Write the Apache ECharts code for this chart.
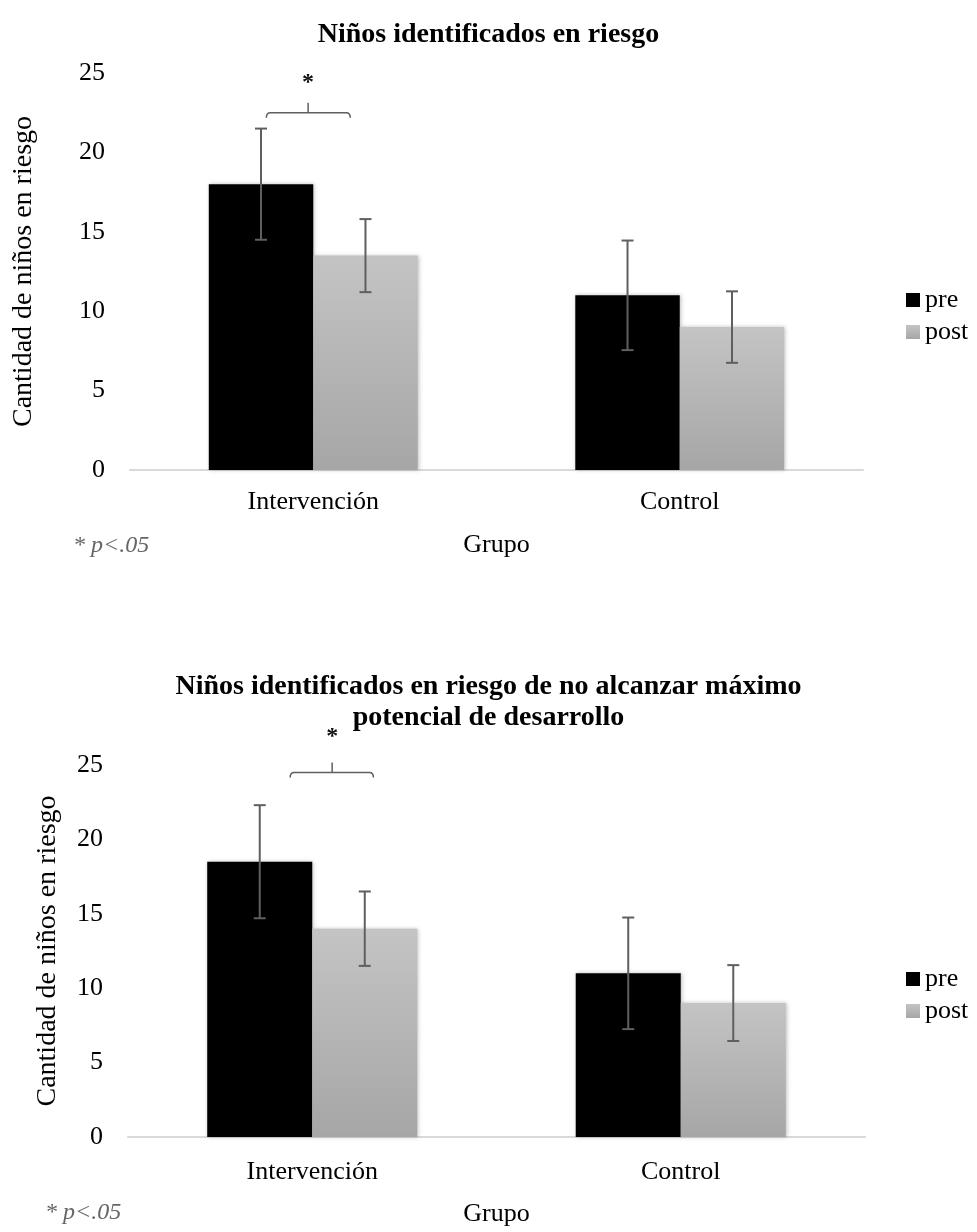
<!DOCTYPE html>
<html>
<head>
<meta charset="utf-8">
<script src="https://cdn.jsdelivr.net/npm/echarts@6/dist/echarts.min.js"></script>
<style>
html,body{margin:0;padding:0;background:#fff;}
#chart{width:977px;height:1232px;}
</style>
</head>
<body>
<div id="chart"></div>
<script>
// ---- data ----
var categories = ['Intervención', 'Control'];
var seriesNames = ['pre', 'post'];
var yTicks = [0, 5, 10, 15, 20, 25];

var title1 = 'Niños identificados en riesgo';
var pre1 = [18.0, 11.0];
var post1 = [13.5, 9.0];
var preErr1 = [3.5, 3.45];
var postErr1 = [2.3, 2.25];

var title2 = 'Niños identificados en riesgo de no alcanzar máximo\npotencial de desarrollo';
var pre2 = [18.5, 11.0];
var post2 = [14.0, 9.0];
var preErr2 = [3.8, 3.75];
var postErr2 = [2.5, 2.55];

var yAxisName = 'Cantidad de niños en riesgo';
var xAxisName = 'Grupo';
var noteText = '* p<.05';

// significance annotation: [categoryIndex, bracketY, starY]
var sig1 = [[0, 22.5, 24.4]];
var sig2 = [[0, 24.5, 26.9]];

// ---- layout / style config ----
var FONT = '"Liberation Serif", "Times New Roman", serif';
var GAP = 0.43;
var bracketOffsets = [[-0.128, 0.101, -0.014], [-0.060, 0.166, 0.054]]; // fraction of band: left, right, center

function errData(vals, errs) {
  return vals.map(function (v, i) { return [i, v - errs[i], v + errs[i]]; });
}

function errRender(side) {
  return function (params, api) {
    var band = api.size([1, 0])[0];
    var barW = band * (1 - GAP) / 2;
    var top = api.coord([api.value(0), api.value(2)]);
    var bot = api.coord([api.value(0), api.value(1)]);
    var x = top[0] + side * barW / 2;
    var c = 6;
    var st = { stroke: '#5f5f5f', lineWidth: 2 };
    return {
      type: 'group',
      children: [
        { type: 'line', shape: { x1: x, y1: top[1], x2: x, y2: bot[1] }, style: st },
        { type: 'line', shape: { x1: x - c, y1: top[1], x2: x + c, y2: top[1] }, style: st },
        { type: 'line', shape: { x1: x - c, y1: bot[1], x2: x + c, y2: bot[1] }, style: st }
      ]
    };
  };
}

function sigRender(k) {
  return function (params, api) {
    var band = api.size([1, 0])[0];
    var p = api.coord([api.value(0), api.value(1)]);
    var s = api.coord([api.value(0), api.value(2)]);
    var off = bracketOffsets[k];
    var x1 = p[0] + off[0] * band, x2 = p[0] + off[1] * band, xc = p[0] + off[2] * band;
    var y = p[1];
    var path = 'M' + x1 + ',' + (y + 5) + ' Q' + x1 + ',' + y + ' ' + (x1 + 4) + ',' + y +
      ' L' + (x2 - 4) + ',' + y + ' Q' + x2 + ',' + y + ' ' + x2 + ',' + (y + 5) +
      ' M' + xc + ',' + y + ' L' + xc + ',' + (y - 10);
    return {
      type: 'group',
      children: [
        { type: 'path', shape: { pathData: path }, style: { stroke: '#5f5f5f', lineWidth: 1.5, fill: null } },
        { type: 'text', x: xc, y: s[1], style: { text: '*', fontFamily: FONT, fontSize: 24, fontWeight: 'bold', fill: '#111', align: 'center', verticalAlign: 'middle' } }
      ]
    };
  };
}

var postColor = {
  type: 'linear', x: 0, y: 0, x2: 0, y2: 1,
  colorStops: [{ offset: 0, color: '#c4c4c4' }, { offset: 1, color: '#a6a6a6' }]
};

function xAxisCfg(gi, labelMargin, nameGap) {
  return {
    gridIndex: gi, type: 'category', data: categories,
    axisLine: { show: true, lineStyle: { color: '#d9d9d9', width: 2 } },
    axisTick: { show: false },
    axisLabel: { fontFamily: FONT, fontSize: 26, color: '#000', margin: labelMargin },
    name: xAxisName, nameLocation: 'middle', nameGap: nameGap,
    nameTextStyle: { fontFamily: FONT, fontSize: 26, color: '#000' }
  };
}
function yAxisCfg(gi, nameGap) {
  return {
    gridIndex: gi, type: 'value', min: yTicks[0], max: yTicks[yTicks.length - 1], interval: yTicks[1] - yTicks[0],
    axisLine: { show: false }, axisTick: { show: false }, splitLine: { show: false },
    axisLabel: { fontFamily: FONT, fontSize: 26, color: '#000', margin: 25 },
    name: yAxisName, nameLocation: 'middle', nameGap: nameGap, nameRotate: 90,
    nameTextStyle: { fontFamily: FONT, fontSize: 28, color: '#000' }
  };
}

var barShadow = { shadowBlur: 4, shadowColor: 'rgba(0,0,0,0.25)', shadowOffsetX: 1, shadowOffsetY: 0 };

function barSeries(name, data, gi, color) {
  return {
    name: name, type: 'bar', xAxisIndex: gi, yAxisIndex: gi, data: data,
    barGap: '0%', barCategoryGap: (GAP * 100) + '%',
    itemStyle: Object.assign({ color: color }, barShadow),
    emphasis: { disabled: true }, silent: true
  };
}
function errSeries(data, gi, side) {
  return {
    type: 'custom', xAxisIndex: gi, yAxisIndex: gi, data: data,
    encode: { x: 0, y: [1, 2] }, renderItem: errRender(side), silent: true, z: 5
  };
}
function sigSeries(data, gi) {
  return {
    type: 'custom', xAxisIndex: gi, yAxisIndex: gi, data: data, clip: false,
    encode: { x: 0, y: [1, 2] }, renderItem: sigRender(gi), silent: true, z: 6
  };
}

var legendCfg = function (top) {
  return {
    data: seriesNames, orient: 'vertical', left: 901, top: top,
    itemWidth: 14, itemHeight: 14, itemGap: 4, icon: 'rect',
    textStyle: { fontFamily: FONT, fontSize: 26, color: '#000', lineHeight: 28 },
    selectedMode: false
  };
};

var option = {
  backgroundColor: '#fff',
  animation: false,
  title: [
    { text: title1, left: 'center', top: 14, textStyle: { fontFamily: FONT, fontSize: 28, fontWeight: 'bold', color: '#000', lineHeight: 32 } },
    { text: title2, left: 'center', top: 666, textStyle: { fontFamily: FONT, fontSize: 28, fontWeight: 'bold', color: '#000', lineHeight: 31 } }
  ],
  legend: [legendCfg(281), legendCfg(960)],
  grid: [
    { left: 130, right: 114, top: 73, height: 397 },
    { left: 128, right: 112, top: 765, height: 372 }
  ],
  xAxis: [xAxisCfg(0, 19, 62), xAxisCfg(1, 22, 64)],
  yAxis: [yAxisCfg(0, 92), yAxisCfg(1, 66)],
  series: [
    barSeries(seriesNames[0], pre1, 0, '#000'),
    barSeries(seriesNames[1], post1, 0, postColor),
    errSeries(errData(pre1, preErr1), 0, -1),
    errSeries(errData(post1, postErr1), 0, 1),
    sigSeries(sig1, 0),
    barSeries(seriesNames[0], pre2, 1, '#000'),
    barSeries(seriesNames[1], post2, 1, postColor),
    errSeries(errData(pre2, preErr2), 1, -1),
    errSeries(errData(post2, postErr2), 1, 1),
    sigSeries(sig2, 1)
  ],
  graphic: [
    { type: 'text', left: 73, top: 534, style: { text: noteText, fontFamily: FONT, fontSize: 24, fontStyle: 'italic', fill: '#666' } },
    { type: 'text', left: 45, top: 1201, style: { text: noteText, fontFamily: FONT, fontSize: 24, fontStyle: 'italic', fill: '#666' } }
  ]
};

var chart = echarts.init(document.getElementById('chart'), null, { renderer: 'canvas' });
chart.setOption(option);
</script>
</body>
</html>
